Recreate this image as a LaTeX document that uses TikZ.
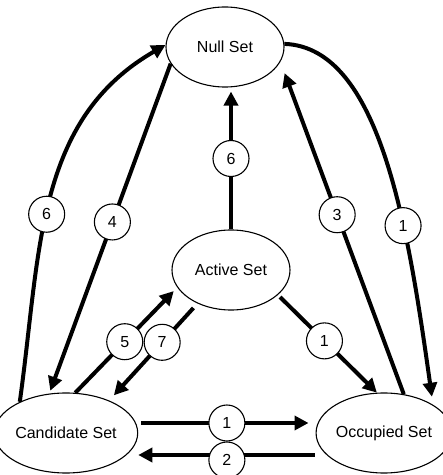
\documentclass[tikz,border=0pt]{standalone}
\usepackage{fontspec}
\setmainfont{Liberation Sans}
\usetikzlibrary{arrows.meta,shapes.geometric,topaths}
\begin{document}
\begin{tikzpicture}[x=1pt,y=1pt,
  setnode/.style={ellipse,draw,line width=1.1pt,minimum width=118pt,minimum height=80pt,inner sep=0pt,font=\fontsize{16}{19}\selectfont},
  num/.style={circle,draw,fill=white,line width=1.1pt,minimum size=36pt,inner sep=0pt,font=\fontsize{16}{19}\selectfont},
  arr/.style={line width=4pt,-{Triangle[length=14pt,width=14pt]}}]
\useasboundingbox (0,0) rectangle (443,475);
\node[setnode] (null) at (225,428) {Null Set};
\node[setnode] (act) at (231,205) {Active Set};
\node[setnode,minimum width=116pt] (cand) at (66,42) {Candidate Set};
\node[setnode,minimum width=116pt] (occ) at (384,42) {Occupied Set};

\draw[arr] (cand.146) to[out=82,in=210] node[num,pos=0.45] {6} (null.178);
\draw[arr,shorten >=3pt] (null.197) -- node[num,pos=0.48] {4} (cand.113);
\draw[arr,shorten >=4pt] (act.north) -- node[num] {6} (act.north |- null.south);
\draw[arr,shorten >=12pt] (occ.63) -- node[num,pos=0.54] {3} (null.-15);
\draw[arr,shorten >=8pt] (null.3) to[out=-2,in=98,out distance=96pt,in distance=178pt] node[num,pos=0.65] {1} (occ.30);
\draw[arr,shorten >=5pt] (cand.77) -- node[num,pos=0.485] {5} (act.198);
\draw[arr,shorten <=6pt,shorten >=7pt] (act.225) -- node[num,pos=0.4] {7} (cand.37);
\draw[arr,shorten <=3pt] (act.-28) -- node[num,pos=0.47] {1} (occ.100);
\draw[arr,shorten <=3pt,shorten >=7pt] ([yshift=10pt]cand.east) -- node[num] {1} ([yshift=10pt]occ.west);
\draw[arr,shorten <=1pt] ([yshift=-22pt]occ.west) -- node[num,yshift=-5pt] {2} ([yshift=-22pt]cand.east);
\end{tikzpicture}
\end{document}
